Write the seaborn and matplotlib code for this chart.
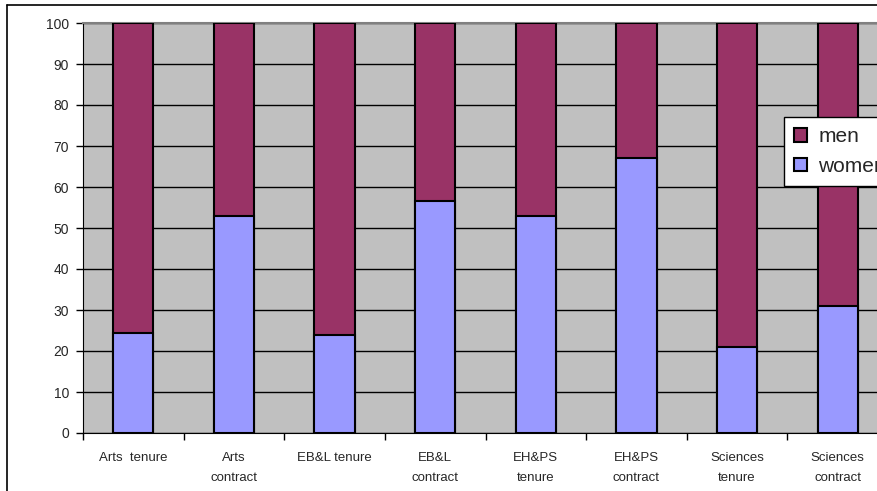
import matplotlib
matplotlib.use("Agg")
import matplotlib.pyplot as plt
import numpy as np
import pandas as pd
import seaborn as sns
from matplotlib.lines import Line2D

categories = ["Arts  tenure", "Arts\ncontract", "EB&L tenure", "EB&L\ncontract",
              "EH&PS\ntenure", "EH&PS\ncontract", "Sciences\ntenure", "Sciences\ncontract"]
women = [24.5, 53, 24, 56.7, 53, 67, 21, 31]
men = [75.5, 47, 76, 43.3, 47, 33, 79, 69]

men_color = "#993366"
women_color = "#9999FF"

df = pd.DataFrame({"category": categories, "women": women, "men": men})
df["total"] = df["women"] + df["men"]

sns.set_style("white")
plt.rcParams["font.family"] = ["Liberation Sans", "DejaVu Sans"]

fig = plt.figure(figsize=(8.77, 4.91), dpi=100)
ax = fig.add_axes([83 / 877, 1 - 433 / 491, 805 / 877, 410 / 491])
ax.set_facecolor("#C0C0C0")

# men stacked on top of women: full bar first, women drawn over it
sns.barplot(data=df, x="category", y="total", color=men_color, width=0.4,
            edgecolor="black", linewidth=1.5, ax=ax, zorder=3, saturation=1)
sns.barplot(data=df, x="category", y="women", color=women_color, width=0.4,
            edgecolor="black", linewidth=1.5, ax=ax, zorder=4, saturation=1)

ax.set_xlim(-0.5, len(categories) - 0.5)
ax.set_ylim(0, 100)
ax.set_yticks(np.arange(0, 101, 10))
ax.yaxis.grid(True, color="black", linewidth=1)
ax.set_axisbelow(True)
ax.set_xlabel("")
ax.set_ylabel("")

ax.set_xticks(np.arange(len(categories)))
ax.set_xticklabels(categories, fontsize=9.5, linespacing=1.8)
ax.set_xticks(np.arange(len(categories)) - 0.5, minor=True)
ax.tick_params(axis="x", which="major", length=0, pad=14)
ax.tick_params(axis="x", which="minor", length=5, width=1, color="black", bottom=True)
ax.tick_params(axis="y", length=5, width=1, color="black", left=True, labelsize=10, pad=5)

for s in ["top", "right"]:
    ax.spines[s].set_color("#808080")
    ax.spines[s].set_linewidth(1.5)
ax.spines["left"].set_color("black")
ax.spines["bottom"].set_color("black")

handles = [plt.Rectangle((0, 0), 1, 1, facecolor=men_color, edgecolor="black", linewidth=1.5),
           plt.Rectangle((0, 0), 1, 1, facecolor=women_color, edgecolor="black", linewidth=1.5)]
leg = ax.legend(handles, ["men", "women"], loc="upper left",
                bbox_to_anchor=(784 / 877, 1 - 117 / 491), bbox_transform=fig.transFigure,
                fontsize=15, frameon=True, fancybox=False, framealpha=1,
                handlelength=0.6, handleheight=0.6, handletextpad=0.55,
                borderpad=0.5, labelspacing=0.5, borderaxespad=0)
leg.get_frame().set_edgecolor("black")
leg.get_frame().set_facecolor("white")
leg.get_frame().set_linewidth(1)
leg.set_zorder(10)

# outer chart frame
fig.add_artist(Line2D([7 / 877, 7 / 877], [0, 1 - 5 / 491], color="black", linewidth=1.2))
fig.add_artist(Line2D([7 / 877, 1], [1 - 5 / 491, 1 - 5 / 491], color="black", linewidth=1.2))

fig.savefig("out.png", dpi=100)
